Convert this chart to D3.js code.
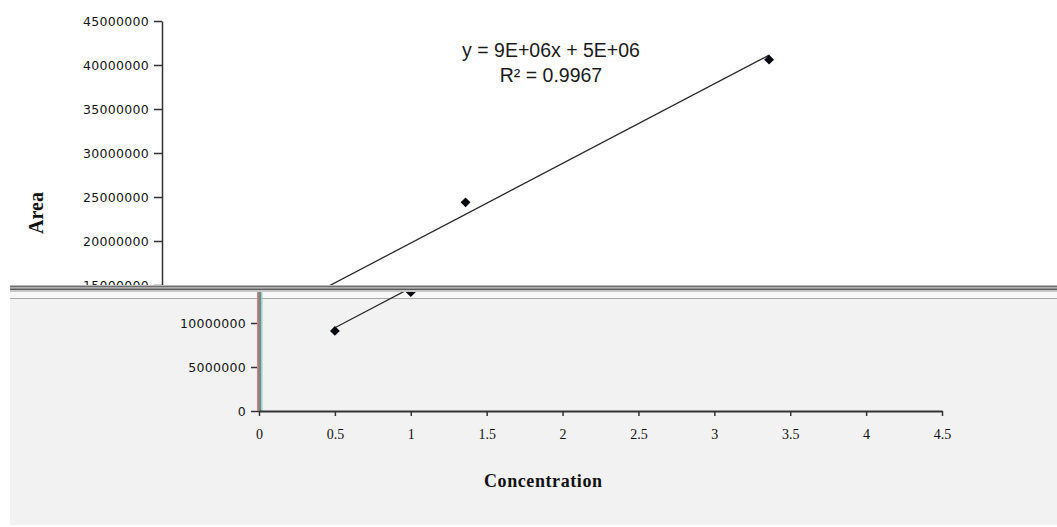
<!DOCTYPE html>
<html>
<head>
<meta charset="utf-8">
<script src="https://cdn.jsdelivr.net/npm/d3@7"></script>
<style>
  body { margin: 0; background: #fff; }
  svg { display: block; }
</style>
</head>
<body>
<div id="chart"></div>
<script>
// data
const concentration = [0.5, 1, 2, 4];
const area = [9100000, 13500000, 24400000, 40600000];
const xTicks = [0, 0.5, 1, 1.5, 2, 2.5, 3, 3.5, 4, 4.5];
const yTicks = [0, 5000000, 10000000, 15000000, 20000000, 25000000,
  30000000, 35000000, 40000000, 45000000];
const eqLabels = ["y = 9E+06x + 5E+06", "R\u00B2 = 0.9967"];

const W = 1057, H = 527;
const CUT_TOP = 285, CUT_BOTTOM = 292;

// least squares fit for the trend line
function fit(xs, ys) {
  const mx = d3.mean(xs), my = d3.mean(ys);
  let sxx = 0, sxy = 0;
  xs.forEach(function(v, i) {
    sxx += (v - mx) * (v - mx);
    sxy += (v - mx) * (ys[i] - my);
  });
  const slope = sxy / sxx;
  return { slope: slope, intercept: my - slope * mx };
}
const trend = fit(concentration, area);

const svg = d3.select("#chart")
  .append("svg")
  .attr("width", W)
  .attr("height", H);

const defs = svg.append("defs");
defs.append("clipPath").attr("id", "clipTop")
  .append("rect").attr("x", 0).attr("y", 0).attr("width", W).attr("height", CUT_TOP);
defs.append("clipPath").attr("id", "clipBottom")
  .append("rect").attr("x", 0).attr("y", CUT_BOTTOM).attr("width", W).attr("height", H - CUT_BOTTOM);

/**
 * draws the chart into g, shifted by dx / dy. The upper part of the
 * picture is offset from the lower part, so each is drawn separately.
 */
function drawPanel(g, dx, dy, lower) {
  const x = d3.scaleLinear().domain([0, 4.5]).range([259 + dx, 942 + dx]);
  const y = d3.scaleLinear().domain([0, 45000000]).range([411 + dy, 15 + dy]);

  if (lower) {
    g.append("rect")
      .attr("x", 10).attr("y", CUT_BOTTOM)
      .attr("width", W - 10).attr("height", 6)
      .attr("fill", "#f7f7f7");
    g.append("rect")
      .attr("x", 10).attr("y", 298)
      .attr("width", W - 10).attr("height", 227)
      .attr("fill", "#f2f2f2");
    g.append("line")
      .attr("x1", 10).attr("x2", W)
      .attr("y1", 298.5).attr("y2", 298.5)
      .attr("stroke", "#a9a9a9");
  }

  // Y AXIS (only the ticks that show in this part)
  const shown = yTicks.filter(function(v) { return lower ? v <= 10000000 : v >= 15000000; });
  const yAxis = g.append("g")
    .attr("transform", `translate(${x(0)},0)`)
    .call(d3.axisLeft(y).tickValues(shown).tickSize(8).tickSizeOuter(0)
      .tickFormat(d3.format("d")));
  yAxis.select(".domain").attr("stroke", "#333").attr("stroke-width", 1.5);
  yAxis.selectAll(".tick line").attr("stroke", "#333").attr("stroke-width", 1.5);
  yAxis.selectAll(".tick text")
    .attr("x", -13)
    .style("font-family", "DejaVu Sans")
    .style("font-size", "12.5px")
    .style("letter-spacing", "0.3px")
    .attr("fill", "#151515");

  if (lower) {
    // thick grey axis bar with colour fringes
    g.append("rect").attr("x", x(0) - 2).attr("y", CUT_BOTTOM)
      .attr("width", 1).attr("height", 411 - CUT_BOTTOM).attr("fill", "#e08080");
    g.append("rect").attr("x", x(0) - 1).attr("y", CUT_BOTTOM)
      .attr("width", 3.5).attr("height", 411 - CUT_BOTTOM).attr("fill", "#858585");
    g.append("rect").attr("x", x(0) + 2.5).attr("y", CUT_BOTTOM)
      .attr("width", 1).attr("height", 411 - CUT_BOTTOM).attr("fill", "#7fe0c8");

    // X AXIS
    const xAxis = g.append("g")
      .attr("transform", `translate(0,${y(0)})`)
      .call(d3.axisBottom(x).tickValues(xTicks).tickSize(5).tickSizeOuter(0)
        .tickFormat(d3.format("")));
    xAxis.select(".domain").attr("stroke", "#333").attr("stroke-width", 2);
    xAxis.selectAll(".tick line").attr("stroke", "#333").attr("stroke-width", 1.5);
    xAxis.selectAll(".tick text")
      .attr("y", 18)
      .style("font-family", "Liberation Serif")
      .style("font-size", "14px")
      .attr("fill", "#111");

    // X AXIS LABEL
    g.append("text")
      .attr("x", 543).attr("y", 487)
      .attr("text-anchor", "middle")
      .style("font-family", "Liberation Serif")
      .style("font-weight", "bold")
      .style("font-size", "18px")
      .attr("textLength", 118)
      .attr("fill", "#111")
      .text("Concentration");
  } else {
    // Y AXIS LABEL
    g.append("text")
      .attr("transform", "translate(43,213) rotate(-90)")
      .attr("text-anchor", "middle")
      .style("font-family", "Liberation Serif")
      .style("font-weight", "bold")
      .style("font-size", "20px")
      .attr("fill", "#111")
      .text("Area");

    // EQUATION
    g.selectAll(".eq")
      .data(eqLabels)
      .enter()
      .append("text")
      .attr("class", "eq")
      .attr("x", 551)
      .attr("y", function(d, i) { return 57 + i * 25; })
      .attr("text-anchor", "middle")
      .style("font-family", "Liberation Sans")
      .style("font-size", "19.5px")
      .attr("fill", "#1a1a1a")
      .text(function(d) { return d; });
  }

  // TREND LINE
  const xr = d3.extent(concentration);
  g.append("line")
    .attr("x1", x(xr[0])).attr("y1", y(trend.intercept + trend.slope * xr[0]))
    .attr("x2", x(xr[1])).attr("y2", y(trend.intercept + trend.slope * xr[1]))
    .attr("stroke", "#2a2a2a")
    .attr("stroke-width", 1.3);

  // POINTS
  g.selectAll(".pt")
    .data(concentration)
    .enter()
    .append("path")
    .attr("class", "pt")
    .attr("d", d3.symbol().type(d3.symbolSquare).size(48))
    .attr("transform", function(d, i) {
      return `translate(${x(d)},${y(area[i])}) rotate(45)`;
    })
    .attr("fill", "#050510");
}

const topPart = svg.append("g").attr("clip-path", "url(#clipTop)");
drawPanel(topPart, -97, 6, false);

const bottomPart = svg.append("g").attr("clip-path", "url(#clipBottom)");
drawPanel(bottomPart, 0, 0, true);

// damaged strip between the two parts
const stripes = [
  { y: 285, h: 1, c: "#b8b8b8" },
  { y: 286, h: 1.5, c: "#6e6e6e" },
  { y: 287.5, h: 1, c: "#a4a4a4" },
  { y: 288.5, h: 1.5, c: "#5a5a5a" },
  { y: 290, h: 2, c: "#c8c8c8" }
];
svg.selectAll(".stripe")
  .data(stripes)
  .enter()
  .append("rect")
  .attr("class", "stripe")
  .attr("x", 10).attr("width", W - 10)
  .attr("y", function(d) { return d.y; })
  .attr("height", function(d) { return d.h; })
  .attr("fill", function(d) { return d.c; });
</script>
</body>
</html>
